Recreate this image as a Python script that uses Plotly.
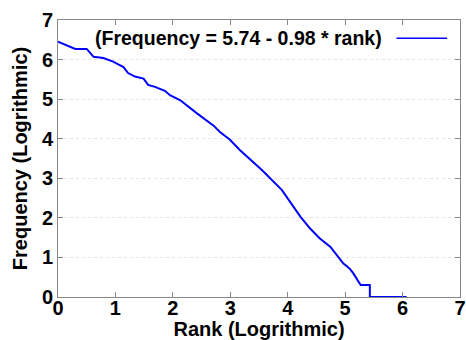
import plotly.graph_objects as go

# Data (log10 rank vs log10 frequency)
log_rank = [0.0, 0.30, 0.50, 0.62, 0.79, 0.96, 1.05, 1.14, 1.22, 1.34, 1.49, 1.57, 1.69,
            1.86, 1.95, 2.13, 2.42, 2.71, 2.82, 2.99, 3.17, 3.55, 3.90, 4.22, 4.39, 4.56,
            4.74, 4.88, 4.97, 4.97, 5.03, 5.03, 5.09, 5.09, 5.14, 5.14, 5.19, 5.19,
            5.27, 5.27, 5.43, 5.43, 6.07]
log_freq = [6.45, 6.27, 6.27, 6.07, 6.04, 5.95, 5.88, 5.81, 5.66, 5.57, 5.52, 5.36, 5.31,
            5.21, 5.10, 4.97, 4.64, 4.33, 4.17, 3.98, 3.71, 3.21, 2.70, 2.03, 1.73, 1.48,
            1.27, 1.02, 0.845, 0.845, 0.778, 0.778, 0.699, 0.699, 0.602, 0.602, 0.477, 0.477,
            0.301, 0.301, 0.301, 0.0, 0.0]
series_name = "(Frequency = 5.74 - 0.98 * rank)"
tick_vals = [0, 1, 2, 3, 4, 5, 6, 7]

FONT = "Liberation Sans, Arial, sans-serif"
BLUE = "#0000ff"

fig = go.Figure()
fig.add_trace(go.Scatter(x=log_rank, y=log_freq, mode="lines", name=series_name,
                         line=dict(color=BLUE, width=2), showlegend=False))

axis_common = dict(
    range=[0, 7], tickvals=tick_vals, ticktext=["<b>%d</b>" % v for v in tick_vals],
    ticks="inside", ticklen=5, tickcolor="#888888",
    showline=True, linecolor="#888888", linewidth=1, mirror="ticks", zeroline=False,
    tickfont=dict(family=FONT, size=20, color="#000000"), automargin=False,
)

fig.update_xaxes(**axis_common, showgrid=False, ticklabelstandoff=-7,
                 title=dict(text="<b>Rank (Logrithmic)</b>", standoff=0,
                            font=dict(family=FONT, size=20, color="#000000")))
fig.update_yaxes(**axis_common, showgrid=True, gridcolor="#e4e4e4", griddash="dot",
                 gridwidth=1,
                 title=dict(text="<b>Frequency (Logrithmic)</b>", standoff=8,
                            font=dict(family=FONT, size=20, color="#000000")))

# Legend drawn as text + sample line, with the line on the right like the reference
fig.add_annotation(x=0.811, y=0.934, xref="paper", yref="paper", xanchor="right",
                   yanchor="middle", showarrow=False,
                   text="<b>" + series_name + "</b>",
                   font=dict(family=FONT, size=19.5, color="#000000"))
fig.add_shape(type="line", xref="paper", yref="paper", x0=0.842, x1=0.968,
              y0=0.934, y1=0.934, line=dict(color=BLUE, width=1.5))

fig.update_layout(
    width=466, height=340,
    margin=dict(l=58, r=6, t=20, b=43),
    paper_bgcolor="white", plot_bgcolor="white",
    font=dict(family=FONT, color="#000000"),
)

fig.write_html("out.html", config={"displayModeBar": False},
               post_script="document.body.style.margin='0';")
